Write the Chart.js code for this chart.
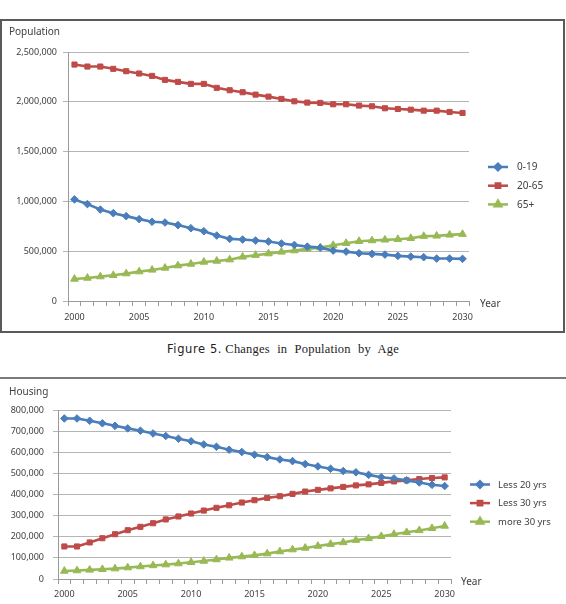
<!DOCTYPE html>
<html><head><meta charset="utf-8">
<script src="https://cdn.jsdelivr.net/npm/chart.js@4/dist/chart.umd.min.js"></script>
<style>
html,body{margin:0;padding:0;background:#fff;}
body{width:566px;height:604px;position:relative;overflow:hidden;font-family:"Noto Sans",sans-serif;}
#box1{position:absolute;left:0;top:19px;width:561px;height:310px;border:2px solid #5a5a5a;}
#c1{position:absolute;left:0;top:0;}
#c2{position:absolute;left:0;top:380px;}
#rule{position:absolute;left:0;top:377px;width:566px;height:0;border-top:2px solid #7a7a7a;}
.t{position:absolute;color:#404040;font-size:10px;white-space:nowrap;line-height:1;}
#cap{position:absolute;left:0;top:343px;width:566px;text-align:center;font-size:12.5px;color:#222;line-height:1;white-space:nowrap;}
#cap .a{font-family:"DejaVu Sans",sans-serif;font-size:11.5px;letter-spacing:0.6px;}
#cap .b{font-family:"Liberation Serif",serif;word-spacing:4px;letter-spacing:0.2px;}
</style></head>
<body>
<div id="box1"></div>
<canvas id="c1" width="566" height="335"></canvas>
<div class="t" style="left:9px;top:26px;">Population</div>
<div class="t" style="left:480px;top:298px;">Year</div>
<div id="cap"><span class="a">Figure 5.</span> <span class="b">Changes in Population by Age</span></div>
<div id="rule"></div>
<canvas id="c2" width="566" height="224"></canvas>
<div class="t" style="left:9px;top:386px;">Housing</div>
<div class="t" style="left:461px;top:576px;">Year</div>
<script>
// ---------- DATA ----------
const years = ["2000","2001","2002","2003","2004","2005","2006","2007","2008","2009","2010",
  "2011","2012","2013","2014","2015","2016","2017","2018","2019","2020",
  "2021","2022","2023","2024","2025","2026","2027","2028","2029","2030"];

// Figure 5: population by age
const popLabels = ["0-19","20-65","65+"];
const pop0_19 = [1020000,973000,918000,882000,852000,822000,795000,788000,762000,731000,701000,
  657000,624000,617000,607000,597000,577000,563000,546000,536000,506000,
  496000,480000,473000,466000,453000,446000,440000,426000,426000,423000];
const pop20_65 = [2374000,2354000,2354000,2331000,2307000,2284000,2260000,2220000,2200000,2180000,2180000,
  2140000,2116000,2096000,2072000,2052000,2029000,2005000,1992000,1989000,1975000,
  1975000,1962000,1955000,1935000,1928000,1921000,1911000,1911000,1898000,1888000];
const pop65plus = [221000,231000,245000,258000,275000,295000,312000,332000,355000,372000,392000,
  402000,415000,443000,460000,476000,493000,506000,523000,536000,560000,
  580000,600000,607000,614000,620000,630000,651000,654000,664000,671000];
const popTicks = [0,500000,1000000,1500000,2000000,2500000];

// Housing by age
const houseLabels = ["Less 20 yrs","Less 30 yrs","more 30 yrs"];
const houseLess20 = [760000,760000,749000,737000,725000,713000,702000,689000,677000,664000,652000,
  637000,626000,612000,601000,588000,577000,566000,558000,544000,533000,
  522000,511000,505000,493000,482000,476000,467000,457000,446000,440000];
const houseLess30 = [154000,154000,173000,193000,212000,231000,247000,264000,282000,296000,310000,
  324000,337000,349000,362000,373000,384000,392000,403000,414000,422000,
  429000,436000,443000,448000,455000,462000,467000,473000,478000,481000];
const houseMore30 = [38000,40000,43000,46000,49000,54000,59000,64000,68000,73000,79000,
  85000,92000,100000,106000,112000,120000,130000,139000,147000,156000,
  165000,173000,184000,192000,202000,212000,221000,230000,240000,251000];
const houseTicks = [0,100000,200000,300000,400000,500000,600000,700000,800000];

// ---------- STYLE ----------
const BLUE = "#4a7ebb", RED = "#be4b48", GREEN = "#98b954";
const styles = [
  {color: BLUE, pointStyle: "rectRot", radius: 3.8},
  {color: RED, pointStyle: "rect", radius: 3.6},
  {color: GREEN, pointStyle: "triangle", radius: 4.4}
];
const FONT = "'Noto Sans', sans-serif";
const GRID = "#b5b5b5";

function legendPlugin(lg) {
  return {
    id: "customLegend",
    afterDraw(chart) {
      const ctx = chart.ctx;
      ctx.save();
      chart.data.datasets.forEach((ds, i) => {
        const y = lg.y0 + i * lg.dy;
        ctx.strokeStyle = ds.borderColor;
        ctx.lineWidth = 2.5;
        ctx.beginPath(); ctx.moveTo(lg.x1, y); ctx.lineTo(lg.x2, y); ctx.stroke();
        ctx.fillStyle = ds.borderColor;
        ctx.strokeStyle = ds.borderColor;
        Chart.helpers.drawPoint(ctx, {pointStyle: ds.pointStyle, radius: ds.pointRadius * 0.85, rotation: 0, borderWidth: 1}, (lg.x1 + lg.x2) / 2, y);
        ctx.fillStyle = "#404040";
        ctx.font = lg.font;
        ctx.textBaseline = "middle";
        ctx.textAlign = "left";
        ctx.fillText(ds.label, lg.tx, y + 0.5);
      });
      ctx.restore();
    }
  };
}

function makeChart(id, labels, series, names, ticks, geo, lg) {
  const datasets = series.map((s, i) => ({
    label: names[i],
    data: s,
    borderColor: styles[i].color,
    backgroundColor: styles[i].color,
    pointBackgroundColor: styles[i].color,
    pointBorderColor: styles[i].color,
    pointStyle: styles[i].pointStyle,
    pointRadius: styles[i].radius,
    pointBorderWidth: 1,
    borderWidth: 2.6,
    tension: 0
  }));
  return new Chart(document.getElementById(id), {
    type: "line",
    data: {labels, datasets},
    options: {
      responsive: false,
      animation: false,
      devicePixelRatio: 1,
      layout: {padding: {left: 0, top: geo.top, right: geo.right, bottom: geo.bottom}},
      plugins: {legend: {display: false}, tooltip: {enabled: false}},
      scales: {
        x: {
          type: "category",
          offset: true,
          grid: {display: true, drawOnChartArea: false, drawTicks: true, tickLength: 5, offset: true, color: "#9a9a9a"},
          border: {display: true, color: "#9a9a9a", width: 1},
          ticks: {
            autoSkip: false, maxRotation: 0, minRotation: 0, padding: geo.xpad,
            color: "#404040", font: {family: FONT, size: 9},
            callback: function(v, i) { const l = this.getLabelForValue(v); return (+l) % 5 === 0 ? l : ""; }
          },
          afterFit: s => { s.height = geo.xh; }
        },
        y: {
          min: ticks[0], max: ticks[ticks.length - 1],
          afterBuildTicks: s => { s.ticks = ticks.map(v => ({value: v})); },
          grid: {color: GRID, tickLength: 5, lineWidth: 1},
          border: {display: true, color: "#9a9a9a", width: 1},
          ticks: {
            padding: geo.ypad, color: "#404040", font: {family: FONT, size: 9},
            callback: v => Number(v).toLocaleString("en-US")
          },
          afterFit: s => { s.width = geo.yw; }
        }
      }
    },
    plugins: [legendPlugin(lg)]
  });
}

// Figure 5 chart: plot area x 68..469, y 52..301
makeChart("c1", years, [pop0_19, pop20_65, pop65plus], popLabels, popTicks,
  {top: 52, right: 97, bottom: 4, xh: 30, yw: 68, xpad: 6, ypad: 6},
  {x1: 488, x2: 508, tx: 517, y0: 167, dy: 18.7, font: "10px " + FONT});

// Housing chart: plot area x 58..451, y 410..579 (canvas top 380, so local y 30..199)
makeChart("c2", years, [houseLess20, houseLess30, houseMore30], houseLabels, houseTicks,
  {top: 30, right: 115, bottom: 0, xh: 25, yw: 58, xpad: 5, ypad: 9},
  {x1: 470, x2: 490, tx: 498, y0: 104.5, dy: 18.6, font: "9.5px " + FONT});
</script>
</body></html>
